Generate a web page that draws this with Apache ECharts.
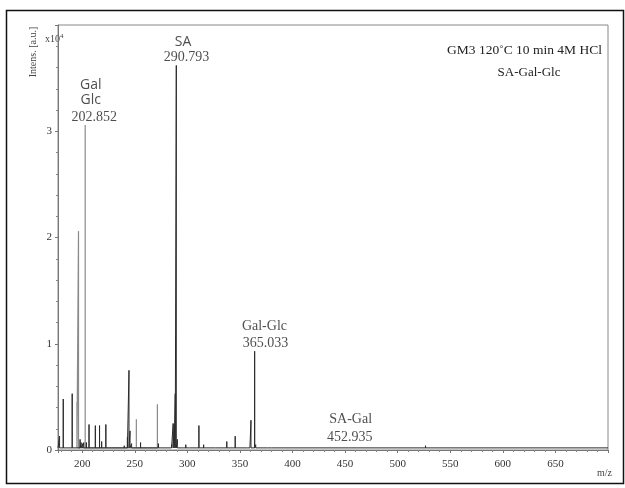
<!DOCTYPE html>
<html><head><meta charset="utf-8">
<script src="https://cdn.jsdelivr.net/npm/echarts@6/dist/echarts.min.js"></script>
<style>html,body{margin:0;padding:0;background:#fff}#c{width:625px;height:488px}</style>
</head><body><div id="c"></div>
<script>
// m/z of dark peaks and their intensities (x10^4 a.u.)
var darkMz  = [178.5,182,190.5,198,199,200.5,201.5,204,206.5,212.5,216.5,218.5,222.5,228,236,240,243,244.5,245.5,247,255.5,262,272.5,285,286.5,287.5,288.5,289.5,290.5,296,298.5,302,311,315.5,327,337.5,345.5,357,359.5,360.5,364,365,371,376,380,390,452.9,526.5];
var darkInt = [0.13,0.48,0.53,0.10,0.07,0.06,0.07,0.07,0.24,0.23,0.23,0.08,0.24,0.03,0.03,0.04,0.12,0.75,0.18,0.06,0.07,0.02,0.06,0.05,0.25,0.24,0.53,3.62,0.10,0.03,0.05,0.02,0.23,0.05,0.02,0.08,0.13,0.02,0.03,0.28,0.93,0.05,0.02,0.03,0.03,0.02,0.015,0.04];
// lighter (gray) peaks
var lightMz  = [195,196.5,202.85,251.5,271.5];
var lightInt = [0.45,2.06,3.06,0.29,0.43];
var baseline = 0.02;
// annotations
var annText = ['SA','290.793','Gal','Glc','202.852','Gal-Glc','365.033','SA-Gal','452.935'];
var annMz   = [295.9,299.3,208.1,208.1,211.5,373.3,374.2,455.3,454.4];
var annInt  = [3.84,3.70,3.435,3.294,3.134,1.167,1.007,0.292,0.122];
var annSans = [true,false,true,true,false,false,false,false,false];
var yTicks = [0,1,2,3];
var xMin = 177, xMax = 700;

function stick(mz, it, withBase){
  var idx = mz.map(function(_,i){return i;}).sort(function(a,b){return mz[a]-mz[b];});
  var d = [];
  if (withBase) d.push([xMin, baseline]);
  idx.forEach(function(i){
    d.push([mz[i], baseline]); d.push([mz[i], it[i]]); d.push([mz[i], baseline]);
  });
  if (withBase) d.push([xMax, baseline]);
  return d;
}
var serif = '"Liberation Serif","Times New Roman",serif';
var sans = '"Open Sans","Liberation Sans",sans-serif';
var annData = annText.map(function(t,i){
  return {value:[annMz[i], annInt[i]], name:t,
    label:{show:true, position:'inside', formatter:t, color:'#222',
      fontFamily: annSans[i]? sans : serif, fontSize:14}};
});

var chart = echarts.init(document.getElementById('c'), null, {renderer:'canvas'});
chart.setOption({
  animation:false,
  backgroundColor:'#fff',
  grid:{left:58, right:17, top:25, bottom:38, show:true, borderColor:'#888', borderWidth:1},
  title:[
    {text:'GM3 120˚C 10 min 4M HCl', right:18, top:38, textStyle:{fontFamily:serif, fontSize:13.5, fontWeight:'normal', color:'#222'}},
    {text:'SA-Gal-Glc', left:524, top:61, textAlign:'center', textStyle:{fontFamily:serif, fontSize:13, fontWeight:'normal', color:'#222'}}
  ],
  xAxis:{type:'value', min:xMin, max:xMax, splitNumber:10,
    axisLine:{lineStyle:{color:'#777'}}, axisTick:{inside:false, length:3, lineStyle:{color:'#777'}},
    minorTick:{show:true, splitNumber:5, length:2, lineStyle:{color:'#888'}},
    splitLine:{show:false},
    axisLabel:{showMinLabel:false, showMaxLabel:false, fontFamily:serif, fontSize:11, color:'#333', margin:9}},
  yAxis:{type:'value', min:0, max:4, interval:1,
    axisLine:{show:true, lineStyle:{color:'#777'}}, axisTick:{show:true, length:3, lineStyle:{color:'#777'}},
    minorTick:{show:true, splitNumber:5, length:2, lineStyle:{color:'#888'}},
    splitLine:{show:false},
    axisLabel:{fontFamily:serif, fontSize:11, color:'#333', margin:6,
      formatter:function(v){return yTicks.indexOf(v)>=0 ? String(v) : '';}}},
  graphic:[
    {type:'rect', left:4, top:8, shape:{width:617, height:473}, style:{fill:'none', stroke:'#111', lineWidth:1.5}, silent:true},
    {type:'text', x:33, y:52, rotation:Math.PI/2, style:{text:'Intens. [a.u.]', fontFamily:serif, fontSize:10, fill:'#444', align:'center', verticalAlign:'middle'}},
    {type:'text', x:45, y:33, style:{text:'x10{s|4}', fontFamily:serif, fontSize:10, fill:'#444',
      rich:{s:{fontSize:7, verticalAlign:'top', padding:[0,0,5,0], fontFamily:serif, fill:'#444'}}}},
    {type:'text', x:597, y:468, style:{text:'m/z', fontFamily:serif, fontSize:10, fill:'#444'}}
  ],
  series:[
    {type:'line', data:stick(lightMz, lightInt, false), symbol:'none', clip:true, z:2,
      lineStyle:{color:'#8a8a8a', width:1.2}},
    {type:'line', data:stick(darkMz, darkInt, true), symbol:'none', clip:true, z:3,
      lineStyle:{color:'#2a2a2a', width:1}},
    {type:'scatter', data:annData, symbolSize:0, z:5, silent:true}
  ]
});
</script></body></html>
